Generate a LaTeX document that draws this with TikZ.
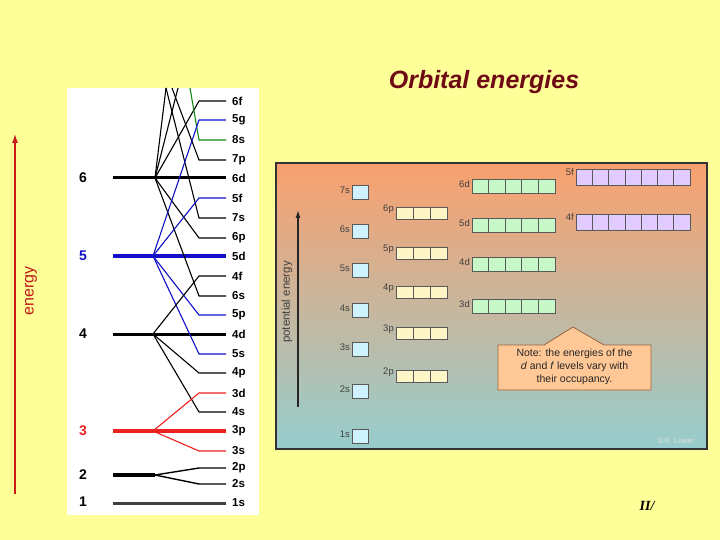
\documentclass[tikz,border=0pt]{standalone}
\usetikzlibrary{arrows.meta}
\usepackage{fontspec}
\setmainfont{Liberation Sans}
\newfontfamily\serifit{Liberation Serif}
\begin{document}
\begin{tikzpicture}[x=1pt,y=-1pt,
  lv/.style={font=\bfseries\fontsize{14}{14}\selectfont},
  sub/.style={font=\bfseries\fontsize{11.5}{11.5}\selectfont,anchor=west,inner sep=0pt},
  lbl/.style={font=\fontsize{9.5}{9.5}\selectfont,text=black!75,anchor=east,inner sep=1pt},
  cell/.style={draw=black!65,line width=0.8pt}]
\definecolor{bgy}{HTML}{FFFF99}
\definecolor{bl}{HTML}{1010C8}
\definecolor{rd}{HTML}{EE2020}
\definecolor{gr}{HTML}{118811}
\definecolor{sC}{HTML}{CFF2FF}
\definecolor{pC}{HTML}{FFF6C8}
\definecolor{dC}{HTML}{C8F7C8}
\definecolor{fC}{HTML}{E2CCFF}
\fill[bgy] (0,0) rectangle (720,540);
\useasboundingbox (0,0) rectangle (720,540);
% title
\node[font=\itshape\bfseries\fontsize{25}{25}\selectfont,text={rgb,255:red,110;green,10;blue,20}] (title) at (484,82) {Orbital energies};
% energy arrow
\coordinate (ea) at (15,494);
\coordinate (eb) at (15,134);
\draw[rd!85!black,line width=1.1pt,-{Latex[length=9pt,width=6pt]}] (ea) -- (eb);
\node[rotate=90,text=rd!80!black,font=\fontsize{16}{16}\selectfont] (en) at (31,291) {energy};
% left panel
\fill[white] (67,88) rectangle (259,515);
\foreach \t/\y/\c in {6/178/black,5/256/bl,4/334/black,3/431/rd,2/475/black,1/502/black}
  \node[lv,text=\c] at (83,\y) {\t};
\foreach \t/\y in {6f/101,5g/120,8s/140,7p/160,6d/178,5f/198,7s/218,6p/238,5d/256,4f/276,6s/296,5p/315,4d/334,5s/354,4p/373,3d/393,4s/412,3p/431,3s/451,2p/468,2s/484,1s/503}
  \node[sub] at (232,\y) {\t};
% main lines
\draw[line width=3pt] (113,178) -- (226,178);
\draw[bl,line width=4.5pt] (113,256) -- (226,256);
\draw[line width=3pt] (113,334) -- (226,334);
\draw[rd,line width=4.5pt] (113,431) -- (226,431);
\draw[line width=3.5pt] (113,475) -- (155,475);
\draw[line width=3pt,black!75] (113,503) -- (226,503);
% branches
\newcommand\br[3]{\draw[#1,line width=1.1pt] (#2) -- (199,#3) -- (226,#3);}
\br{black}{155,178}{101}
\br{black}{155,178}{238}
\br{black}{155,178}{296}
\draw[line width=1.1pt] (155,178) -- (178,88);
\draw[line width=1.1pt] (155,178) -- (166,88);
\br{black}{172,88}{160}
\br{black}{166,88}{218}
\br{gr}{190,88}{140}
\br{bl}{153,256}{120}
\br{bl}{153,256}{198}
\br{bl}{153,256}{315}
\br{bl}{153,256}{354}
\br{black}{153,334}{276}
\br{black}{153,334}{373}
\br{black}{153,334}{412}
\br{rd}{153,431}{393}
\br{rd}{153,431}{451}
\draw[line width=1.4pt] (155,475) -- (199,468) -- (226,468);
\draw[line width=1.4pt] (155,475) -- (199,484) -- (226,484);
% right panel
\shade[top color={rgb,255:red,250;green,160;blue,110},bottom color={rgb,255:red,150;green,205;blue,205}] (276,163) rectangle (707,449);
\draw[black!80,line width=1.2pt] (276,163) rectangle (707,449);
\draw[black!85,line width=1.2pt,-{Latex[length=8pt,width=5pt]}] (298,407) -- (298,210);
\node[rotate=90,font=\fontsize{11.5}{11.5}\selectfont,text=black!75] (pe) at (287,302) {potential energy};
\foreach \t/\y in {7s/192,6s/231,5s/270,4s/310,3s/349,2s/391,1s/436}{
  \fill[sC] (352,\y-7) rectangle (368,\y+7);
  \draw[cell] (352,\y-7) rectangle (368,\y+7);
  \node[lbl] at (351,\y-2) {\t};}
\foreach \t/\y in {6p/213,5p/253,4p/292,3p/333,2p/376}{
  \fill[pC] (396,\y-6) rectangle (447,\y+6);
  \foreach \i in {0,1,2} \draw[cell] (396+17*\i,\y-6) rectangle (413+17*\i,\y+6);
  \node[lbl] at (395,\y-4) {\t};}
\foreach \t/\y in {6d/186,5d/225,4d/264,3d/306}{
  \fill[dC] (472,\y-7) rectangle (555,\y+7);
  \foreach \i in {0,...,4} \draw[cell] (472+16.6*\i,\y-7) rectangle (488.6+16.6*\i,\y+7);
  \node[lbl] at (471,\y-2) {\t};}
\foreach \t/\y in {5f/177,4f/222}{
  \fill[fC] (576,\y-8) rectangle (690,\y+8);
  \foreach \i in {0,...,6} \draw[cell] (576+16.3*\i,\y-8) rectangle (592.3+16.3*\i,\y+8);
  \node[lbl] at (575,\y-5) {\t};}
\draw[fill={rgb,255:red,255;green,200;blue,150},draw={rgb,255:red,150;green,100;blue,60},line width=0.8pt]
  (498,345) -- (544,345) -- (573,327) -- (604,345) -- (651,345) -- (651,390) -- (498,390) -- cycle;
\node[align=center,font=\fontsize{10.5}{13}\selectfont,text=black!85] (note) at (574.5,367) {Note: the energies of the\\\textit{d} and \textit{f} levels vary with\\their occupancy.};
\node[font=\fontsize{7.5}{8}\selectfont,text=white!75!gray] (sk) at (676,441) {S.K. Lower};
\node[font=\serifit\bfseries\itshape\fontsize{14}{14}\selectfont] (pg) at (647,506) {II/};
\end{tikzpicture}
\end{document}
